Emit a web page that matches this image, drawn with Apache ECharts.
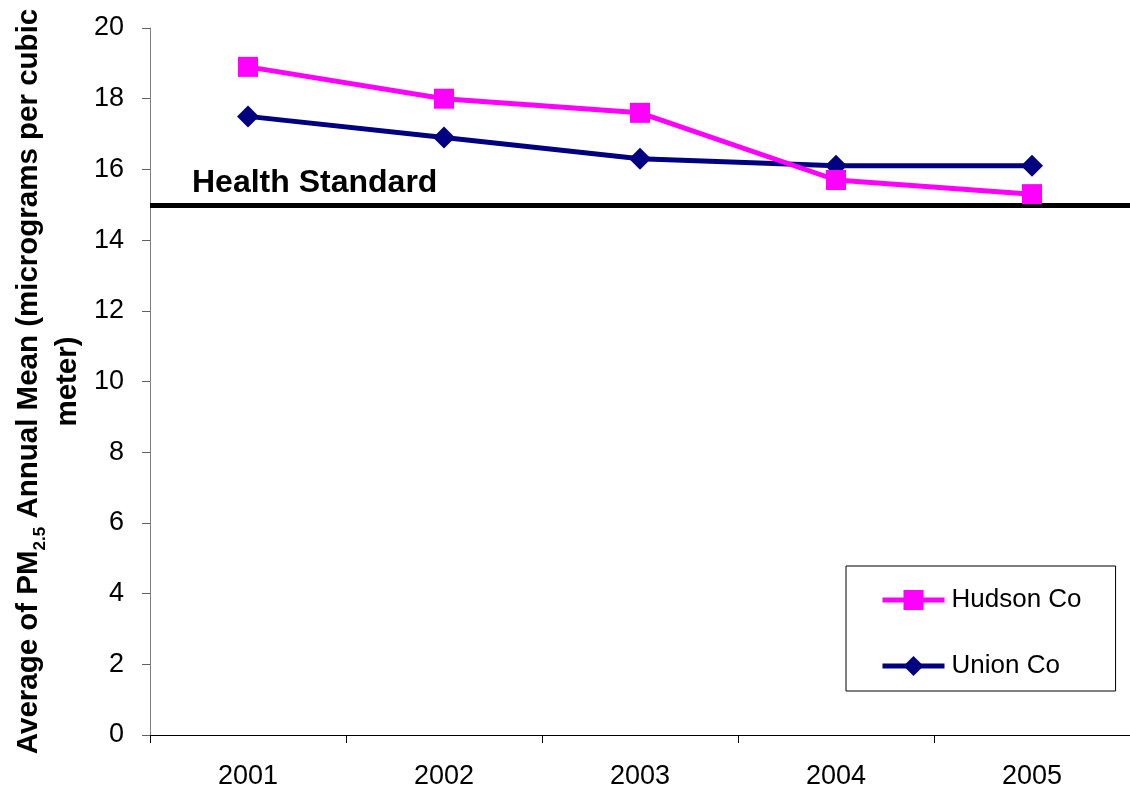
<!DOCTYPE html>
<html>
<head>
<meta charset="utf-8">
<script src="https://cdn.jsdelivr.net/npm/echarts@6/dist/echarts.min.js"></script>
<style>
  html, body { margin: 0; padding: 0; background: #fff; }
  #chart { width: 1130px; height: 791px; }
</style>
</head>
<body>
<div id="chart"></div>
<script>
// Annual mean PM2.5 by county, 2001-2005
const years = ['2001', '2002', '2003', '2004', '2005'];
const hudson = [18.9, 18.0, 17.6, 15.7, 15.3];
const union = [17.5, 16.9, 16.3, 16.1, 16.1];
const healthStandard = 15;
const yTicks = { min: 0, max: 20, interval: 2 };

const FONT = '"Liberation Sans", Arial, sans-serif';

const chart = echarts.init(document.getElementById('chart'), null, { renderer: 'canvas' });

chart.setOption({
  backgroundColor: '#ffffff',
  animation: false,
  grid: { left: 150, right: 0, top: 28, bottom: 56, containLabel: false },
  legend: {
    orient: 'vertical',
    left: 846,
    top: 566,
    itemWidth: 62,
    itemHeight: 25,
    itemGap: 36,
    padding: [19, 34, 10, 34],
    borderColor: '#000',
    borderWidth: 1,
    backgroundColor: '#fff',
    lineStyle: { width: 5 },
    textStyle: { fontFamily: FONT, fontSize: 26, color: '#000', lineHeight: 30, padding: [0, 0, 0, 2] },
    data: ['Hudson Co', 'Union Co']
  },
  xAxis: {
    type: 'category',
    data: years,
    boundaryGap: true,
    axisLine: { lineStyle: { color: '#000', width: 1 } },
    axisTick: { show: true, length: 8, inside: false, lineStyle: { color: '#000' } },
    axisLabel: { fontFamily: FONT, fontSize: 27, color: '#000', margin: 28 },
    splitLine: { show: false }
  },
  yAxis: {
    type: 'value',
    min: yTicks.min,
    max: yTicks.max,
    interval: yTicks.interval,
    axisLine: { show: true, lineStyle: { color: '#808080', width: 1 } },
    axisTick: { show: true, length: 8, lineStyle: { color: '#606060' } },
    axisLabel: { fontFamily: FONT, fontSize: 27, color: '#000', margin: 26 },
    splitLine: { show: false },
    name: '{b|Average of PM}{sub|2.5}{b| Annual Mean (micrograms per cubic}\n{b|meter)}',
    nameLocation: 'middle',
    nameRotate: 90,
    nameGap: 61,
    nameTextStyle: {
      align: 'center',
      rich: {
        b: { fontFamily: FONT, fontSize: 29.5, fontWeight: 'bold', color: '#000', lineHeight: 39 },
        sub: { fontFamily: FONT, fontSize: 17, fontWeight: 'bold', color: '#000', lineHeight: 19, verticalAlign: 'bottom' }
      }
    }
  },
  series: [
    {
      name: 'Hudson Co',
      type: 'line',
      data: hudson,
      symbol: 'rect',
      symbolSize: 20,
      color: '#ff00ff',
      lineStyle: { color: '#ff00ff', width: 5 },
      itemStyle: { color: '#ff00ff' },
      z: 3,
      markLine: {
        silent: true,
        symbol: 'none',
        lineStyle: { color: '#000', width: 5, type: 'solid' },
        label: {
          show: true,
          position: 'insideStartTop',
          distance: [42, 6],
          formatter: 'Health Standard',
          fontFamily: FONT,
          fontSize: 32,
          fontWeight: 'bold',
          color: '#000'
        },
        data: [{ yAxis: healthStandard }],
        z: 1
      }
    },
    {
      name: 'Union Co',
      type: 'line',
      data: union,
      symbol: 'diamond',
      symbolSize: [22, 22],
      color: '#000080',
      lineStyle: { color: '#000080', width: 5 },
      itemStyle: { color: '#000080' },
      z: 2
    }
  ]
});
</script>
</body>
</html>
